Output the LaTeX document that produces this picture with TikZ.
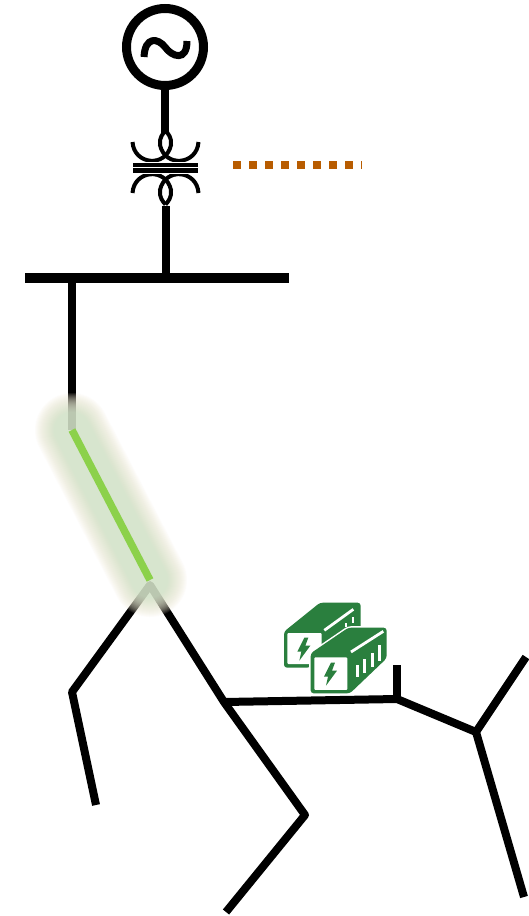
\documentclass[tikz,border=0pt]{standalone}
\definecolor{bessgreen}{HTML}{2A7F3E}
\definecolor{feeder}{HTML}{8CD14B}
\definecolor{dashorange}{HTML}{B85C00}
\definecolor{glowin}{HTML}{CBE5C8}
\definecolor{glowout}{HTML}{F5EAD5}
\tikzset{
  wire/.style={line width=8pt,line cap=butt,line join=round},
  heavy/.style={line width=8.5pt},
  busbar/.style={line width=10pt},
  coil/.style={line width=4pt},
  core/.style={line width=4.4pt},
  genbox/.style={circle,draw,line width=9pt,minimum size=77pt,inner sep=0pt},
  sfill/.style={fill=bessgreen,rounded corners=3pt},
  facepanel/.style={fill=white,rounded corners=1pt},
  whiteline/.style={draw=white,line width=2.8pt},
  bolt/.style={fill=bessgreen}
}
\newcommand{\boltshape}[2]{\fill[bolt,shift={(#1,#2)},x=1pt,y=-1pt] (1,-11) -- (-6,3) -- (-2,3) -- (-4,12) -- (7,-3) -- (2,-3) -- (5,-11) -- cycle;}
\begin{document}
\begin{tikzpicture}[x=1pt,y=-1pt]
\useasboundingbox (0,0) rectangle (528,916);
\fill[white] (0,0) rectangle (528,916);
% named points
\node[genbox] (gen) at (165,47) {};
\coordinate (xu) at (165,133);
\coordinate (xl) at (166,206);
\coordinate (bl) at (25,278);
\coordinate (br) at (289,278);
\coordinate (bt) at (166,278);
\coordinate (bf) at (72,278);
\coordinate (fa) at (72,430);
\coordinate (fb) at (150,580);
\coordinate (j0) at (150,585);
\coordinate (a1) at (72,692);
\coordinate (a2) at (96,805);
\coordinate (j1) at (224,702);
\coordinate (c1) at (305,815);
\coordinate (c2) at (226,912);
\coordinate (j2) at (397,699);
\coordinate (d1) at (397,665);
\coordinate (j3) at (476,732);
\coordinate (e1) at (526,657);
\coordinate (e2) at (524,897);
\coordinate (da) at (233,165);
\coordinate (db) at (362,165);
% generator symbol
\draw[line width=7pt] (144,57) .. controls (145,36) and (158,38) .. (165,47) .. controls (172,57) and (187,62) .. (187,41);
\draw[heavy] (gen.south) -- (xu);
% transformer
\draw[coil] (132.5,142) .. controls (134,165) and (166,168) .. (171,145) .. controls (172,138) and (168,133) .. (165.5,131);
\draw[coil] (198.5,142) .. controls (197,165) and (165,168) .. (160,145) .. controls (159,138) and (163,133) .. (165.5,131);
\draw[coil] (132.5,193) .. controls (134,170) and (166,167) .. (171,190) .. controls (172,197) and (168,202) .. (165.5,204.5);
\draw[coil] (198.5,193) .. controls (197,170) and (165,167) .. (160,190) .. controls (159,197) and (163,202) .. (165.5,204.5);
\fill[white] (130,162) rectangle (201,174);
\draw[core] (133,165) -- (198,165);
\draw[core] (133,170.5) -- (198,170.5);
\draw[heavy] (xl) -- (bt);
\draw[busbar] (bl) -- (br);
% dashed link
\draw[dashorange,line width=8pt,dash pattern=on 8pt off 8pt] (da) -- (db);
% network
\draw[wire] (bf) -- (fa);
\draw[wire] (a2) -- (a1) -- (j0) -- (j1) -- (c1) -- (c2);
\draw[wire] (j1) -- (j2) -- (j3) -- (e2);
\draw[wire] (j2) -- (d1);
\draw[wire] (j3) -- (e1);
% glow
\foreach \w/\c in {74/0,72/5,70/10,68/15,66/20,64/25,62/30,60/35,58/40,56/46,54/52,52/58,50/64,48/70,46/76,44/82,42/88,40/94,38/100,36/100}{
  \draw[color=glowin!\c!glowout,opacity=0.1,line width=\w pt,line cap=round] (fa) -- (fb);
}
\draw[feeder,line width=7.5pt] (fa) -- (fb);
% battery units (drawn in 3x zoomed units)
\begin{scope}[shift={(270,590)},x=0.3333pt,y=-0.3333pt]
  % rear unit
  \fill[sfill] (42,125) -- (150,38) -- (272,38) -- (272,120) -- (150,200) -- (120,233) -- (42,233) -- cycle;
  \fill[facepanel] (52,129) rectangle (155,222);
  \draw[whiteline] (163,121) -- (250,58);
  \draw[white,line width=2pt] (228,100) -- (228,112);
  \draw[white,line width=2pt] (250,82) -- (250,100);
  \boltshape{100}{176}
  % front unit
  \draw[white,line width=3pt,fill=white,rounded corners=3pt] (122,190) -- (235,113) -- (350,113) -- (350,205) -- (240,310) -- (122,310) -- cycle;
  \fill[sfill] (122,190) -- (235,113) -- (350,113) -- (350,205) -- (240,310) -- (122,310) -- cycle;
  \fill[facepanel] (133,202) rectangle (232,300);
  \draw[whiteline] (243,186) -- (340,124);
  \draw[white,line width=3pt] (262,226) -- (262,262);
  \draw[white,line width=3pt] (285,208) -- (285,248);
  \draw[white,line width=3pt] (308,190) -- (308,232);
  \draw[white,line width=3pt] (330,165) -- (330,212);
  \boltshape{180}{251}
\end{scope}
\end{tikzpicture}
\end{document}
